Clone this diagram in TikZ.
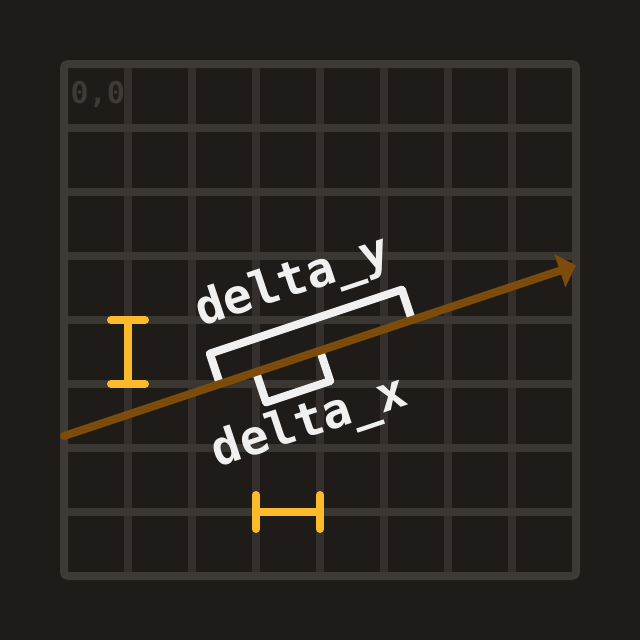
\documentclass[tikz,border=0pt]{standalone}
\usepackage{fontspec}
\newfontfamily\monofont{DejaVu Sans Mono}
\usetikzlibrary{arrows.meta}
\definecolor{bg}{RGB}{30,27,25}
\definecolor{gridb}{RGB}{62,58,53}
\definecolor{gridh}{RGB}{58,54,50}
\definecolor{gridv}{RGB}{52,47,44}
\definecolor{raycol}{RGB}{125,76,10}
\definecolor{markcol}{RGB}{251,186,42}
\definecolor{brk}{RGB}{240,240,240}
\begin{document}
\begin{tikzpicture}[x=1pt,y=-1pt,
  gridline/.style={line width=8pt},
  bracket/.style={draw=brk, line width=8pt, line join=round, line cap=butt},
  marker/.style={draw=markcol, line width=8pt, line cap=round},
  lbl/.style={text=brk, font=\monofont\bfseries\fontsize{48}{48}\selectfont, inner sep=0pt, rotate=18.435, anchor=base}]
\fill[bg] (0,0) rectangle (640,640);
\useasboundingbox (0,0) rectangle (640,640);
\foreach \i in {1,...,7} { \draw[gridline, gridv] (64+64*\i,64) -- (64+64*\i,576); }
\foreach \i in {1,...,7} { \draw[gridline, gridh] (64,64+64*\i) -- (576,64+64*\i); }
\draw[gridline, gridb, rounded corners=4pt] (64,64) rectangle (576,576);
\node[text=gridb, font=\monofont\bfseries\fontsize{30}{30}\selectfont, inner sep=0pt, anchor=base west] (origin) at (70.5,103.5) {0,0};
% yellow markers
\draw[marker] (111,320) -- (145,320);
\draw[marker] (128,320) -- (128,384);
\draw[marker] (111,384) -- (145,384);
\draw[marker] (256,495) -- (256,529);
\draw[marker] (256,512) -- (320,512);
\draw[marker] (320,495) -- (320,529);
\begin{scope}[shift={(64,436)}, rotate=18.435]
  \draw[bracket] (164.4,0) -- (164.4,-32) -- (366.8,-32) -- (366.8,0);
  \draw[bracket] (202.4,0) -- (202.4,32) -- (269.9,32) -- (269.9,0);
  \node[lbl] (dy) at (266,-60) {delta\_y};
  \node[lbl] (dx) at (237,79) {delta\_x};
  \coordinate (raystart) at (0,0);
  \coordinate (rayend) at (539.7,0);
  \draw[raycol, line width=8pt, line cap=round, -{Triangle[length=17pt,width=34pt]}] (raystart) -- (rayend);
\end{scope}
\end{tikzpicture}
\end{document}
